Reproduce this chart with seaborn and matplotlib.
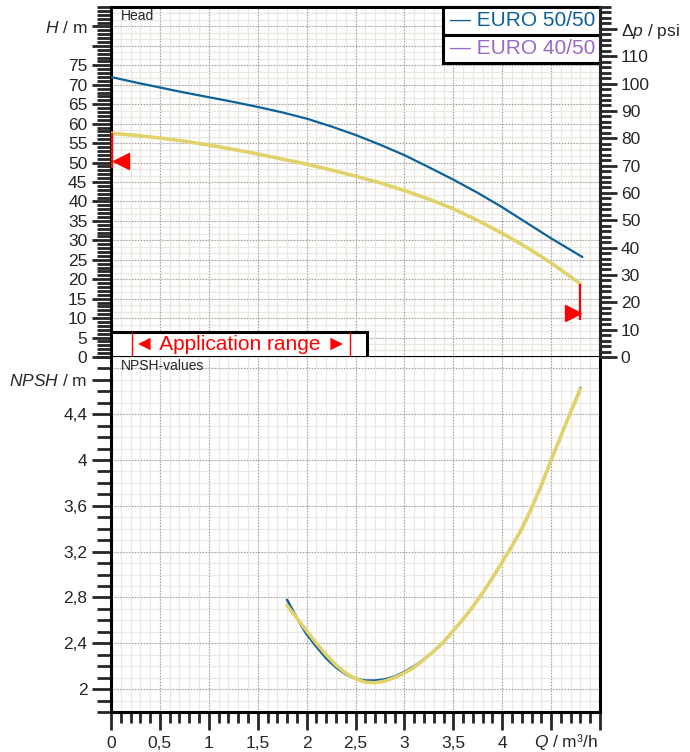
import numpy as np
import pandas as pd
import matplotlib
matplotlib.use("Agg")
import matplotlib.pyplot as plt
import seaborn as sns
from matplotlib.ticker import MultipleLocator, FixedLocator
from matplotlib.patches import Rectangle

# ---------------- data ----------------
pump_names = ["EURO 50/50", "EURO 40/50"]

q_head_50 = [0.0, 0.25, 0.5, 0.75, 1.0, 1.25, 1.5, 1.75, 2.0, 2.25, 2.5,
             2.75, 3.0, 3.25, 3.5, 3.75, 4.0, 4.25, 4.5, 4.82]
h_50 = [72.0, 70.6, 69.3, 68.0, 66.8, 65.6, 64.3, 62.9, 61.3, 59.3, 57.1,
        54.6, 51.9, 48.8, 45.6, 42.2, 38.5, 34.5, 30.5, 25.7]

q_head_40 = [0.0, 0.25, 0.5, 0.75, 1.0, 1.25, 1.5, 1.75, 2.0, 2.25, 2.5,
             2.75, 3.0, 3.25, 3.5, 3.75, 4.0, 4.25, 4.5, 4.8]
h_40 = [57.5, 57.0, 56.3, 55.5, 54.5, 53.4, 52.2, 50.9, 49.6, 48.1, 46.5,
        44.8, 42.8, 40.6, 38.1, 35.1, 31.8, 28.2, 24.2, 18.8]

q_npsh = [1.8, 1.9, 2.0, 2.1, 2.2, 2.3, 2.4, 2.5, 2.6, 2.7, 2.8, 2.9, 3.0,
          3.1, 3.2, 3.3, 3.4, 3.5, 3.6, 3.7, 3.8, 3.9, 4.0, 4.1, 4.2, 4.3,
          4.4, 4.5, 4.6, 4.7, 4.8]
npsh_50 = [2.78, 2.62, 2.48, 2.37, 2.27, 2.19, 2.13, 2.09, 2.075, 2.075, 2.085,
           2.11, 2.15, 2.20, 2.26, 2.33, 2.41, 2.51, 2.61, 2.72, 2.84, 2.97,
           3.11, 3.25, 3.40, 3.58, 3.78, 4.00, 4.21, 4.42, 4.63]
npsh_40 = [2.73, 2.62, 2.51, 2.40, 2.30, 2.21, 2.14, 2.09, 2.06, 2.055, 2.07,
           2.10, 2.14, 2.19, 2.26, 2.33, 2.41, 2.51, 2.61, 2.72, 2.84, 2.97,
           3.11, 3.25, 3.40, 3.58, 3.78, 4.00, 4.21, 4.42, 4.62]

# application range limits (red markers)
limit_q = [0.015, 4.8]
limit_h_top = [57.5, 18.8]
limit_h_bottom = [48.6, 9.5]
limit_arrow_h = [50.5, 11.3]
app_box_q = [0.21, 2.44]

h_ticks = [0, 5, 10, 15, 20, 25, 30, 35, 40, 45, 50, 55, 60, 65, 70, 75, 80, 85]
h_labels = ["0", "5", "10", "15", "20", "25", "30", "35", "40", "45", "50",
            "55", "60", "65", "70", "75", "", "$H$ / m"]
psi_ticks = [0, 10, 20, 30, 40, 50, 60, 70, 80, 90, 100, 110, 120]
psi_labels = ["0", "10", "20", "30", "40", "50", "60", "70", "80", "90",
              "100", "110", "Δ$p$ / psi"]
npsh_ticks = [2.0, 2.4, 2.8, 3.2, 3.6, 4.0, 4.4, 4.7]
npsh_labels = ["2", "2,4", "2,8", "3,2", "3,6", "4", "4,4", "$NPSH$ / m"]
q_ticks = [0, 0.5, 1, 1.5, 2, 2.5, 3, 3.5, 4, 4.5, 5]
q_labels = ["0", "0,5", "1", "1,5", "2", "2,5", "3", "3,5", "4", "", ""]

M_TO_PSI = 1.42233

# ---------------- style ----------------
sns.set_style("white")
plt.rcParams['font.family'] = ['Liberation Sans', 'DejaVu Sans']
plt.rcParams['mathtext.fontset'] = 'custom'
plt.rcParams['mathtext.rm'] = 'Liberation Sans'
plt.rcParams['mathtext.it'] = 'Liberation Sans:italic'

BLUE = "#0b6198"
YELLOW = "#e2d26c"
PURPLE = "#9a68c8"
RED = "#ff0000"
GRID_MAJ = "#9a9a9a"
GRID_MIN = "#ebe8e3"
LW_SPINE = 2.2

fig = plt.figure(figsize=(6.9, 7.52), dpi=100)
ax_h = fig.add_axes([0.1609, 0.5253, 0.7087, 0.4654])
ax_n = fig.add_axes([0.1609, 0.0532, 0.7087, 0.4721])

# ===============================
# HEAD PANEL
# ===============================
ax_h.set_xlim(0, 5)
ax_h.set_ylim(0, 90)

for y in np.arange(0, 90, 5 / 3):
    ax_h.axhline(y, color=GRID_MIN, lw=0.9, zorder=0)
for x in np.arange(0, 5.01, 0.1):
    ax_h.axvline(x, color=GRID_MIN, lw=0.9, zorder=0)
for y in h_ticks:
    ax_h.axhline(y, color=GRID_MAJ, lw=0.8, ls=":", zorder=0.5)
for x in q_ticks:
    ax_h.axvline(x, color=GRID_MAJ, lw=0.8, ls=":", zorder=0.5)

df50 = pd.DataFrame({"Q": q_head_50, "H": h_50})
df40 = pd.DataFrame({"Q": q_head_40, "H": h_40})
sns.lineplot(data=df50, x="Q", y="H", ax=ax_h, color=BLUE, lw=1.6, zorder=3)
sns.lineplot(data=df40, x="Q", y="H", ax=ax_h, color=YELLOW, lw=2.6, zorder=3)

# red application limits
ax_h.vlines(limit_q, limit_h_bottom, limit_h_top, color=RED, lw=1.6, zorder=4)
ax_h.plot(limit_q[0] + 0.09, limit_arrow_h[0], marker="<", color=RED, ms=11,
          zorder=5, clip_on=False)
ax_h.plot(limit_q[1] - 0.08, limit_arrow_h[1], marker=">", color=RED, ms=11,
          zorder=5)

# application range box
ax_h.add_patch(Rectangle((0, 0), 2.62, 6.4, facecolor="white", edgecolor="black",
                         lw=LW_SPINE, zorder=6, clip_on=False))
ax_h.vlines(app_box_q, 0, 6.4, color=RED, lw=1.0, zorder=7)
ax_h.text(sum(app_box_q) / 2, 3.2, "◄ Application range ►", color=RED,
          fontsize=15, ha="center", va="center", zorder=8,
          family=['Liberation Sans', 'DejaVu Sans'])

ax_h.text(0.02, 0.995, "Head", transform=ax_h.transAxes, fontsize=10,
          ha="left", va="top", zorder=8)

# legend boxes
legend_colors = [BLUE, PURPLE]
for i, (name, col) in enumerate(zip(pump_names, legend_colors)):
    y0 = 0.92 - i * 0.08
    ax_h.add_patch(Rectangle((0.679, y0), 0.321, 0.08, transform=ax_h.transAxes,
                             facecolor="white", edgecolor="black", lw=LW_SPINE,
                             zorder=9, clip_on=False))
    ax_h.text(0.99, y0 + 0.04, "— " + name, transform=ax_h.transAxes,
              color=col, fontsize=15, ha="right", va="center", zorder=10)

ax_h.yaxis.set_major_locator(FixedLocator(h_ticks))
ax_h.set_yticklabels(h_labels)
ax_h.yaxis.set_minor_locator(MultipleLocator(1))
ax_h.tick_params(axis="y", which="both", left=True)
ax_h.tick_params(axis="y", which="major", length=14, width=2, labelsize=12.5, pad=3)
ax_h.tick_params(axis="y", which="minor", length=10, width=2)
ax_h.tick_params(axis="x", which="both", length=0, labelbottom=False)
ax_h.set_xlabel("")
ax_h.set_ylabel("")
for s in ax_h.spines.values():
    s.set_linewidth(LW_SPINE)
    s.set_color("black")

ax_p = ax_h.twinx()
ax_p.set_ylim(0, 90 * M_TO_PSI)
ax_p.yaxis.set_major_locator(FixedLocator(psi_ticks))
ax_p.set_yticklabels(psi_labels)
ax_p.yaxis.set_minor_locator(MultipleLocator(2))
ax_p.tick_params(axis="y", which="both", right=True)
ax_p.tick_params(axis="y", which="major", length=12, width=2, labelsize=12.5, pad=3)
ax_p.tick_params(axis="y", which="minor", length=8, width=2)
for k, s in ax_p.spines.items():
    s.set_visible(k == "right")
    s.set_linewidth(LW_SPINE)

# ===============================
# NPSH PANEL
# ===============================
ax_n.set_xlim(0, 5)
ax_n.set_ylim(1.8, 4.9)

for y in np.arange(1.8, 4.91, 0.1):
    ax_n.axhline(y, color=GRID_MIN, lw=0.9, zorder=0)
for x in np.arange(0, 5.01, 0.1):
    ax_n.axvline(x, color=GRID_MIN, lw=0.9, zorder=0)
for y in np.arange(2.0, 4.81, 0.4):
    ax_n.axhline(y, color=GRID_MAJ, lw=0.8, ls=":", zorder=0.5)
for x in q_ticks:
    ax_n.axvline(x, color=GRID_MAJ, lw=0.8, ls=":", zorder=0.5)

dn50 = pd.DataFrame({"Q": q_npsh, "NPSH": npsh_50})
dn40 = pd.DataFrame({"Q": q_npsh, "NPSH": npsh_40})
sns.lineplot(data=dn50, x="Q", y="NPSH", ax=ax_n, color=BLUE, lw=1.8, zorder=3)
sns.lineplot(data=dn40, x="Q", y="NPSH", ax=ax_n, color=YELLOW, lw=2.6, zorder=3)

ax_n.text(0.02, 0.995, "NPSH-values", transform=ax_n.transAxes, fontsize=10,
          ha="left", va="top", zorder=8)

ax_n.yaxis.set_major_locator(FixedLocator(npsh_ticks))
ax_n.set_yticklabels(npsh_labels)
ax_n.yaxis.set_minor_locator(MultipleLocator(0.1))
ax_n.tick_params(axis="y", which="both", left=True)
ax_n.tick_params(axis="y", which="major", length=14, width=2, labelsize=12.5, pad=3)
ax_n.tick_params(axis="y", which="minor", length=10, width=2)

ax_n.xaxis.set_major_locator(FixedLocator(q_ticks))
ax_n.set_xticklabels(q_labels)
ax_n.xaxis.set_minor_locator(MultipleLocator(0.1))
ax_n.tick_params(axis="x", which="both", bottom=True)
ax_n.tick_params(axis="x", which="major", length=13, width=2, labelsize=12.5, pad=4)
ax_n.tick_params(axis="x", which="minor", length=8, width=2)
ax_n.text(4.98, -0.085, "$Q$ / m³/h", transform=ax_n.get_xaxis_transform(),
          fontsize=12.5, ha="right", va="center")
ax_n.set_xlabel("")
ax_n.set_ylabel("")
for k, s in ax_n.spines.items():
    s.set_visible(k != "top")
    s.set_linewidth(LW_SPINE)
    s.set_color("black")

fig.savefig("out.png", dpi=100)
